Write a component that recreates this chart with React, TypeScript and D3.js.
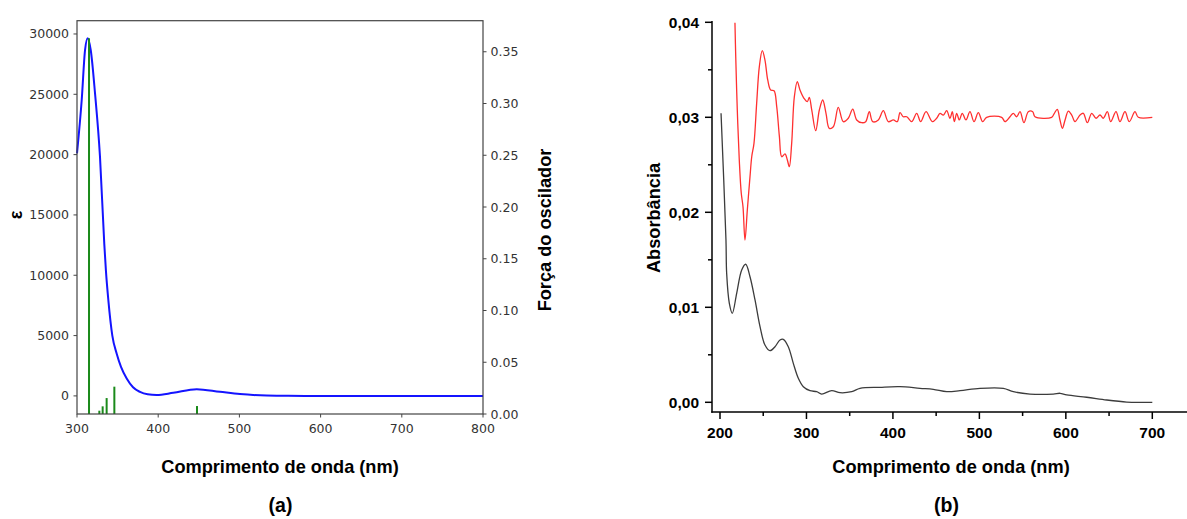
import React from "react";
import * as d3 from "d3";

// ---------- (a) data ----------
const specWl = [300, 305.8, 309.9, 313.2, 316.9, 322.2, 328.3, 333.6, 335.7, 338.6, 343.5, 348.9, 354.2, 361.2, 369, 377.6, 387, 398, 418.6, 447.4, 476, 500.7, 533.6, 560, 600, 700, 800];
const specEps = [20100, 24530, 28670, 29640, 28670, 25080, 19830, 12600, 10300, 7940, 5000, 3500, 2410, 1450, 720, 330, 130, 70, 260, 560, 340, 150, 30, 5, 0, 0, 0];
const stickWl = [314.8, 327.5, 331.6, 336.5, 346, 447.8];
const stickF = [0.363, 0.0032, 0.0074, 0.0154, 0.0264, 0.0077];
const aXTicks = [300, 400, 500, 600, 700, 800];
const aYTicks = [0, 5000, 10000, 15000, 20000, 25000, 30000];
const aFTicks = [0, 0.05, 0.1, 0.15, 0.2, 0.25, 0.3, 0.35];

// ---------- (b) data ----------
const blackWl = [201.2, 206.9, 207.7, 210.8, 214.2, 219.3, 225.1, 229.7, 234.7, 240.5, 246.3, 252, 257.8, 263.6, 269.4, 273.2, 279, 284.8, 290.6, 296.4, 304.1, 311.8, 317.6, 329.2, 338.8, 352.3, 361.9, 385, 408.2, 431.3, 446.7, 462.2, 477.6, 500.7, 527.7, 539.3, 558.5, 585.5, 593.3, 601, 624.1, 647.3, 670.4, 678.1, 700];
const blackAbs = [0.03042, 0.01708, 0.01358, 0.01042, 0.00937, 0.01147, 0.01393, 0.01453, 0.01322, 0.01077, 0.00796, 0.00603, 0.00543, 0.00585, 0.00656, 0.00663, 0.00585, 0.0041, 0.00253, 0.00164, 0.00122, 0.00112, 0.00087, 0.00122, 0.00101, 0.00112, 0.00147, 0.00158, 0.00164, 0.00147, 0.00137, 0.00112, 0.00122, 0.00147, 0.00147, 0.00112, 0.00087, 0.00087, 0.00095, 0.00077, 0.00053, 0.00024, 0.00002, 0.0, 0.0];
const redWl = [217.3, 218.2, 220, 222.3, 224.6, 226.6, 228.9, 231.6, 234.7, 236.7, 239.3, 242.4, 245.5, 248.9, 252, 255.2, 258.6, 262.5, 265.6, 268.7, 271.4, 275.2, 277.9, 280.2, 282.9, 286, 289.4, 292.5, 297.1, 301, 303.3, 306.1, 310.7, 314.9, 318.8, 322.6, 326.4, 331.1, 336.8, 342.6, 348.4, 353.5, 358.1, 363.9, 368.5, 372.7, 376.6, 383.1, 388.9, 394.7, 400.5, 405.1, 408.2, 412, 416, 421.7, 427.5, 432.1, 438.3, 445.6, 450.6, 454.5, 458.3, 462.2, 466, 468.7, 471, 473.8, 476.8, 480.2, 484.5, 489.1, 493.8, 498.8, 503.8, 508.4, 525.8, 529.6, 535.4, 539.2, 543.2, 547, 551.6, 556.6, 561.7, 564.3, 583.6, 586.7, 590.1, 593.2, 596, 599.1, 602.9, 606.8, 610.6, 616.4, 620.2, 624.9, 629.9, 634.9, 639.5, 643.3, 648, 651.9, 658, 662.6, 668.4, 673.4, 680, 683.8, 700];
const redAbs = [0.03996, 0.03638, 0.03077, 0.0255, 0.022, 0.02059, 0.01708, 0.02024, 0.02375, 0.02585, 0.02726, 0.03147, 0.03533, 0.03701, 0.03603, 0.03393, 0.03287, 0.0328, 0.03112, 0.02796, 0.02585, 0.02614, 0.0255, 0.0248, 0.02726, 0.03217, 0.03375, 0.03287, 0.032, 0.03164, 0.0321, 0.03077, 0.02859, 0.03077, 0.03182, 0.03042, 0.02884, 0.02901, 0.03105, 0.02954, 0.0299, 0.03087, 0.02972, 0.02943, 0.02954, 0.03059, 0.02954, 0.02972, 0.0307, 0.02954, 0.02972, 0.02954, 0.03049, 0.03006, 0.03006, 0.02954, 0.03042, 0.02954, 0.03059, 0.02954, 0.0299, 0.03042, 0.03024, 0.0307, 0.0299, 0.03059, 0.02954, 0.03042, 0.02972, 0.03042, 0.02972, 0.03059, 0.02954, 0.03049, 0.02954, 0.03, 0.03, 0.02954, 0.03006, 0.03042, 0.03006, 0.03059, 0.02943, 0.03059, 0.03059, 0.03006, 0.03, 0.03042, 0.03084, 0.02972, 0.02884, 0.02972, 0.03066, 0.03024, 0.02954, 0.03024, 0.03042, 0.02943, 0.03042, 0.0299, 0.03024, 0.0299, 0.03059, 0.02954, 0.03059, 0.02954, 0.03059, 0.02954, 0.03059, 0.03, 0.03];
const bXTicks = [200, 300, 400, 500, 600, 700];
const bXMinor = [250, 350, 450, 550, 650];
const bYTicks = [0, 0.01, 0.02, 0.03, 0.04];
const bYMinor = [0.005, 0.015, 0.025, 0.035];

const W = 1187;
const H = 519;

export default function App() {
  // ---- scales (a)
  const xA = d3.scaleLinear().domain([300, 800]).range([77, 483]);
  const yA = d3.scaleLinear().domain([-1500, 31100]).range([414, 20.7]);
  const yF = d3.scaleLinear().domain([0, 0.38]).range([414, 20.7]);
  const specLine = d3
    .line<number>()
    .x((_, i) => xA(specWl[i]))
    .y((d) => yA(d))
    .curve(d3.curveMonotoneX);

  // ---- scales (b)
  const xB = d3.scaleLinear().domain([200, 700]).range([720, 1152.3]);
  const yB = d3.scaleLinear().domain([0, 0.04]).range([402.3, 22.3]);
  const blackLine = d3
    .line<number>()
    .x((_, i) => xB(blackWl[i]))
    .y((d) => yB(d))
    .curve(d3.curveCatmullRom);
  const redLine = d3
    .line<number>()
    .x((_, i) => xB(redWl[i]))
    .y((d) => yB(d))
    .curve(d3.curveCatmullRom);

  const axA = "#444";
  const tickFontA = { fontFamily: "DejaVu Sans", fontSize: 12.5, fill: "#333" };
  const tickFontB = { fontFamily: "Liberation Sans, Arial", fontSize: 15.5, fontWeight: 700, fill: "#000" };
  const labelFont = { fontFamily: "Liberation Sans, Arial", fontSize: 18.2, fontWeight: 700, fill: "#000" };

  const bLeft = 712;
  const bBottom = 412;

  return (
    <svg width={W} height={H} style={{ display: "block", position: "absolute", left: 0, top: 0, background: "#fff" }}>
      <rect x={0} y={0} width={W} height={H} fill="#fff" />
      {/* ===== (a) ===== */}
      <g>
        <path d={specLine(specEps) || ""} fill="none" stroke="#1414ff" strokeWidth={2} />
        {stickWl.map((w, i) => (
          <line key={i} x1={xA(w)} x2={xA(w)} y1={yF(0)} y2={yF(stickF[i])} stroke="#1a8a1a" strokeWidth={2} />
        ))}
        <rect x={77} y={20.7} width={483 - 77} height={414 - 20.7} fill="none" stroke={axA} strokeWidth={1.2} />
        {aXTicks.map((t) => (
          <g key={t}>
            <line x1={xA(t)} x2={xA(t)} y1={414} y2={417.5} stroke={axA} />
            <text x={xA(t)} y={432.5} textAnchor="middle" {...tickFontA}>
              {t}
            </text>
          </g>
        ))}
        {aYTicks.map((t) => (
          <g key={t}>
            <line x1={73.5} x2={77} y1={yA(t)} y2={yA(t)} stroke={axA} />
            <text x={69} y={yA(t)} dy="0.36em" textAnchor="end" {...tickFontA}>
              {t}
            </text>
          </g>
        ))}
        {aFTicks.map((t) => (
          <g key={t}>
            <line x1={483} x2={486.5} y1={yF(t)} y2={yF(t)} stroke={axA} />
            <text x={490.5} y={yF(t)} dy="0.36em" textAnchor="start" {...tickFontA}>
              {t.toFixed(2)}
            </text>
          </g>
        ))}
        <text transform="translate(22,215) rotate(-90)" textAnchor="middle" {...labelFont}>
          ε
        </text>
        <text transform="translate(551,230) rotate(-90)" textAnchor="middle" {...labelFont}>
          Força do oscilador
        </text>
        <text x={280} y={472.7} textAnchor="middle" {...labelFont}>
          Comprimento de onda (nm)
        </text>
        <text x={280.5} y={512} textAnchor="middle" {...labelFont} fontSize={19.5}>
          (a)
        </text>
      </g>

      {/* ===== (b) ===== */}
      <g>
        <path d={blackLine(blackAbs) || ""} fill="none" stroke="#3c3c3c" strokeWidth={1.3} />
        <path d={redLine(redAbs) || ""} fill="none" stroke="#ff3030" strokeWidth={1.3} />
        <line x1={bLeft} x2={bLeft} y1={21} y2={bBottom + 0.75} stroke="#000" strokeWidth={1.5} />
        <line x1={bLeft - 0.75} x2={W} y1={bBottom} y2={bBottom} stroke="#000" strokeWidth={1.5} />
        {bXTicks.map((t) => (
          <g key={t}>
            <line x1={xB(t)} x2={xB(t)} y1={bBottom} y2={bBottom + 7} stroke="#000" strokeWidth={1.5} />
            <text x={xB(t)} y={438.2} textAnchor="middle" {...tickFontB}>
              {t}
            </text>
          </g>
        ))}
        {bXMinor.map((t) => (
          <line key={t} x1={xB(t)} x2={xB(t)} y1={bBottom} y2={bBottom + 4} stroke="#000" strokeWidth={1.5} />
        ))}
        {bYTicks.map((t) => (
          <g key={t}>
            <line x1={bLeft - 7} x2={bLeft} y1={yB(t)} y2={yB(t)} stroke="#000" strokeWidth={1.5} />
            <text x={699} y={yB(t)} dy="0.36em" textAnchor="end" {...tickFontB}>
              {t.toFixed(2).replace(".", ",")}
            </text>
          </g>
        ))}
        {bYMinor.map((t) => (
          <line key={t} x1={bLeft - 4} x2={bLeft} y1={yB(t)} y2={yB(t)} stroke="#000" strokeWidth={1.5} />
        ))}
        <text transform="translate(660,218) rotate(-90)" textAnchor="middle" {...labelFont}>
          Absorbância
        </text>
        <text x={951} y={473} textAnchor="middle" {...labelFont}>
          Comprimento de onda (nm)
        </text>
        <text x={946.5} y={512} textAnchor="middle" {...labelFont} fontSize={19.5}>
          (b)
        </text>
      </g>
    </svg>
  );
}
